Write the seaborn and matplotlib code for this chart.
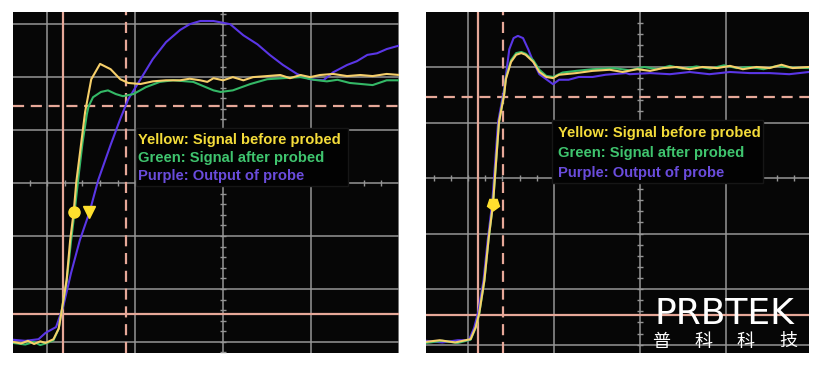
import numpy as np
import pandas as pd
import matplotlib
matplotlib.use("Agg")
import matplotlib.pyplot as plt
from matplotlib.patches import Rectangle
import seaborn as sns

# traces read off the scope screens, in divisions (x: time div, y: volt div)
# left screen: probe with long ground lead
left_yellow_x = [-2.39, -2.30, -2.22, -2.15, -2.08, -2.02, -1.93, -1.87, -1.84, -1.78, -1.74, -1.70,
                 -1.67, -1.57, -1.50, -1.40, -1.28, -1.17, -1.08, -0.94, -0.80, -0.65, -0.49, -0.38,
                 -0.26, -0.18, -0.11, 0.00, 0.11, 0.23, 0.34, 0.50, 0.65, 0.76, 0.88, 0.99, 1.10,
                 1.25, 1.41, 1.56, 1.70, 1.86, 2.01]
left_yellow_y = [-3.00, -3.03, -2.98, -3.04, -2.99, -3.02, -2.95, -2.75, -2.45, -1.83, -1.08, -0.55,
                 0.02, 1.34, 1.96, 2.25, 2.15, 1.96, 1.89, 1.87, 1.92, 1.94, 1.94, 1.97,
                 1.94, 1.91, 1.98, 1.94, 2.00, 1.94, 2.00, 2.02, 2.04, 1.98, 2.04, 2.00, 2.04,
                 2.06, 2.02, 2.04, 2.02, 2.06, 2.04]
left_green_x = [-2.39, -2.25, -2.15, -2.08, -2.00, -1.93, -1.87, -1.84, -1.78, -1.73, -1.69, -1.65,
                -1.60, -1.55, -1.53, -1.48, -1.39, -1.31, -1.22, -1.14, -1.02, -0.88, -0.72, -0.57,
                -0.34, -0.11, -0.03, 0.11, 0.31, 0.50, 0.68, 0.88, 1.03, 1.18, 1.30, 1.44, 1.57,
                1.70, 1.86, 2.01]
left_green_y = [-3.02, -3.05, -3.00, -3.06, -3.02, -2.97, -2.75, -2.45, -1.85, -1.10, -0.55, 0.05,
                0.75, 1.30, 1.45, 1.62, 1.72, 1.75, 1.68, 1.64, 1.68, 1.81, 1.91, 1.94,
                1.91, 1.75, 1.72, 1.75, 1.87, 1.96, 1.98, 2.00, 1.95, 1.92, 1.95, 1.89, 1.87,
                1.85, 1.94, 1.94]
left_purple_x = [-2.39, -2.25, -2.10, -2.02, -1.90, -1.82, -1.73, -1.63, -1.52, -1.42, -1.28, -1.17,
                 -1.08, -0.94, -0.80, -0.65, -0.49, -0.38, -0.26, -0.11, 0.08, 0.23, 0.39, 0.53,
                 0.68, 0.84, 0.99, 1.14, 1.25, 1.41, 1.52, 1.64, 1.75, 1.86, 2.01]
left_purple_y = [-2.96, -2.98, -2.95, -2.83, -2.72, -2.34, -1.70, -1.08, -0.55, 0.06, 0.72, 1.21,
                 1.58, 1.96, 2.34, 2.66, 2.89, 3.00, 3.06, 3.06, 3.00, 2.79, 2.62, 2.42,
                 2.23, 2.06, 1.96, 1.94, 2.09, 2.23, 2.30, 2.42, 2.45, 2.53, 2.60]

# right screen: probe with short ground spring
right_yellow_x = [-2.49, -2.33, -2.15, -1.97, -1.91, -1.87, -1.81, -1.76, -1.71, -1.69, -1.64, -1.58,
                  -1.56, -1.50, -1.44, -1.38, -1.33, -1.24, -1.17, -1.09, -1.01, -0.94, -0.74, -0.55,
                  -0.35, -0.20, -0.03, 0.12, 0.27, 0.43, 0.58, 0.73, 0.90, 1.05, 1.20, 1.36, 1.51,
                  1.65, 1.78, 1.97]
right_yellow_y = [-2.95, -2.92, -2.96, -2.90, -2.68, -2.43, -1.84, -1.08, -0.47, -0.04, 1.01, 1.50,
                  1.78, 2.09, 2.22, 2.25, 2.22, 2.09, 1.91, 1.82, 1.80, 1.86, 1.89, 1.93,
                  1.95, 1.91, 1.96, 1.93, 1.98, 2.00, 1.96, 2.00, 1.98, 2.02, 1.96, 2.00, 1.98,
                  2.04, 1.98, 2.00]
right_green_x = [-2.49, -2.30, -2.12, -1.97, -1.91, -1.87, -1.81, -1.76, -1.71, -1.69, -1.64, -1.58,
                 -1.56, -1.50, -1.44, -1.38, -1.33, -1.24, -1.17, -1.09, -1.01, -0.90, -0.74, -0.55,
                 -0.30, -0.12, 0.05, 0.20, 0.35, 0.50, 0.66, 0.82, 0.98, 1.13, 1.28, 1.44, 1.60,
                 1.75, 1.97]
right_green_y = [-2.97, -2.93, -2.97, -2.91, -2.69, -2.44, -1.85, -1.09, -0.48, -0.05, 1.00, 1.52,
                 1.80, 2.12, 2.25, 2.27, 2.24, 2.12, 1.95, 1.84, 1.82, 1.90, 1.93, 1.96,
                 1.98, 1.94, 2.00, 1.96, 2.02, 1.97, 2.01, 1.97, 2.03, 1.98, 2.00, 1.96, 2.02,
                 1.99, 1.98]
right_purple_x = [-2.49, -2.30, -2.12, -1.99, -1.93, -1.88, -1.82, -1.77, -1.72, -1.70, -1.65, -1.58,
                  -1.52, -1.47, -1.42, -1.36, -1.30, -1.24, -1.17, -1.09, -1.01, -0.94, -0.83, -0.71,
                  -0.55, -0.40, -0.16, -0.12, 0.12, 0.35, 0.58, 0.81, 1.05, 1.28, 1.51, 1.74, 1.97]
right_purple_y = [-2.93, -2.96, -2.92, -2.92, -2.70, -2.40, -1.84, -1.10, -0.47, -0.04, 1.01, 1.60,
                  2.32, 2.52, 2.56, 2.52, 2.32, 2.09, 1.87, 1.78, 1.69, 1.77, 1.77, 1.82,
                  1.82, 1.86, 1.89, 1.87, 1.89, 1.87, 1.91, 1.87, 1.91, 1.89, 1.89, 1.87, 1.91]

# cursor markers on the yellow trace
left_markers_x = [-1.70, -1.52]
left_markers_y = [-0.55, -0.55]
right_marker_x = [-1.71]
right_marker_y = [-0.47]

# cursor positions (divisions)
left_cursor_v = [-1.82, -1.10]
left_cursor_h = [-2.47, 1.45]
right_cursor_v = [-1.88, -1.59]
right_cursor_h = [-2.47, 1.46]

legend_lines = ["Yellow: Signal before probed", "Green: Signal after probed", "Purple: Output of probe"]
legend_colors = ["#f4dc3a", "#3fc46e", "#6a4cdc"]
trace_colors = {"Yellow": "#f6cf6a", "Green": "#34b866", "Purple": "#5a36e6"}
logo_text = "PRBTEK"
logo_cn = ["普", "科", "科", "技"]

sns.set_style("dark")
plt.rcParams["font.family"] = ["DejaVu Sans"]

fig = plt.figure(figsize=(8.22, 3.66), dpi=100)
fig.patch.set_facecolor("white")

W, H = 822, 366
ax1 = fig.add_axes([13 / W, (H - 353) / H, 386 / W, 341 / H])
ax2 = fig.add_axes([426 / W, (H - 353) / H, 383 / W, 341 / H])

grid_c = "#959595"
cursor_c = "#e6a898"


def draw_screen(ax, xlim, ylim, traces, cur_v, cur_h):
    ax.set_facecolor("#060606")
    ax.set_xlim(*xlim)
    ax.set_ylim(*ylim)
    for gx in range(int(np.ceil(xlim[0])), int(np.floor(xlim[1])) + 1):
        ax.axvline(gx, color=grid_c, lw=1.1, zorder=1)
    for gy in range(int(np.ceil(ylim[0])), int(np.floor(ylim[1])) + 1):
        ax.axhline(gy, color=grid_c, lw=1.1, zorder=1)
    # minor ticks along the centre lines
    tx = np.arange(np.ceil(xlim[0] * 5) / 5, xlim[1], 0.2)
    ty = np.arange(np.ceil(ylim[0] * 5) / 5, ylim[1], 0.2)
    ax.plot(tx, np.zeros_like(tx), ls="none", marker="|", ms=5, mew=1, color=grid_c, zorder=1)
    ax.plot(np.zeros_like(ty), ty, ls="none", marker="_", ms=5, mew=1, color=grid_c, zorder=1)
    ax.axvline(cur_v[0], color=cursor_c, lw=1.6, zorder=2)
    ax.axvline(cur_v[1], color=cursor_c, lw=1.6, ls=(0, (5, 3)), zorder=2)
    ax.axhline(cur_h[0], color=cursor_c, lw=1.6, zorder=2)
    ax.axhline(cur_h[1], color=cursor_c, lw=1.6, ls=(0, (5, 3)), zorder=2)

    df = pd.concat([pd.DataFrame({"x": tx_, "y": ty_, "trace": n})
                    for n, (tx_, ty_) in traces.items()], ignore_index=True)
    sns.lineplot(data=df, x="x", y="y", hue="trace", hue_order=["Purple", "Green", "Yellow"],
                 palette=trace_colors, estimator=None, sort=False, lw=1.5, legend=False,
                 ax=ax, zorder=4)
    ax.set_xticks([])
    ax.set_yticks([])
    ax.set_xlabel("")
    ax.set_ylabel("")
    for s in ax.spines.values():
        s.set_visible(False)


draw_screen(ax1, (-2.39, 2.0), (-3.21, 3.23),
            {"Yellow": (left_yellow_x, left_yellow_y), "Green": (left_green_x, left_green_y),
             "Purple": (left_purple_x, left_purple_y)}, left_cursor_v, left_cursor_h)
draw_screen(ax2, (-2.49, 1.97), (-3.15, 2.99),
            {"Yellow": (right_yellow_x, right_yellow_y), "Green": (right_green_x, right_green_y),
             "Purple": (right_purple_x, right_purple_y)}, right_cursor_v, right_cursor_h)

ax1.plot(left_markers_x[:1], left_markers_y[:1], "o", ms=8, color="#ffe02e", zorder=6)
ax1.plot(left_markers_x[1:], left_markers_y[1:], "v", ms=8, color="#ffe02e", zorder=6)
ax2.plot(right_marker_x, right_marker_y, marker=(5, 0, 180), ls="none", ms=9, color="#ffe02e", zorder=6)

# legend boxes
leg_font = ["Liberation Sans", "DejaVu Sans"]
for ax, (x0, y0, w, h), tx, bases in [
        (ax1, (-0.99, -0.06, 2.41, 1.09), -0.97, [0.74, 0.40, 0.06]),
        (ax2, (-1.02, -0.09, 2.45, 1.14), -0.95, [0.74, 0.38, 0.02])]:
    ax.add_patch(Rectangle((x0, y0), w, h, facecolor="#020202", edgecolor="#161616", lw=1, zorder=5))
    for line, c, b in zip(legend_lines, legend_colors, bases):
        ax.text(tx, b, line, color=c, fontsize=10.6, fontweight="bold", family=leg_font,
                va="baseline", ha="left", zorder=6)

# watermark
fig.text(654 / W, (H - 324) / H, logo_text, color="white", fontsize=26, family=["DejaVu Sans"],
         va="baseline", ha="left")
for i, ch in enumerate(logo_cn):
    fig.text((661 + 42.5 * i) / W, (H - 347) / H, ch, color="white", fontsize=13,
             family=["Noto Sans CJK SC", "DejaVu Sans"], va="baseline", ha="center")

fig.savefig("out.png", dpi=100, facecolor="white")
